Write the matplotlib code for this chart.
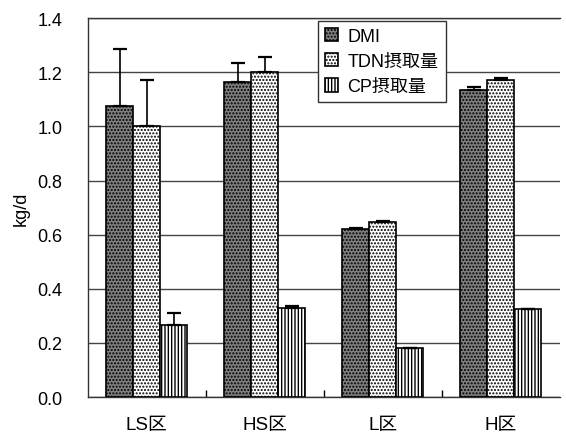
import numpy as np
import matplotlib
matplotlib.use("Agg")
import matplotlib.pyplot as plt

plt.rcParams['font.family'] = ['Liberation Sans', 'Noto Sans CJK JP']

groups = ['LS区', 'HS区', 'L区', 'H区']
series = ['DMI', 'TDN摂取量', 'CP摂取量']

dmi = [1.075, 1.165, 0.62, 1.135]
dmi_err = [0.21, 0.07, 0.005, 0.01]
tdn = [1.0, 1.2, 0.645, 1.17]
tdn_err = [0.17, 0.055, 0.005, 0.01]
cp = [0.265, 0.33, 0.18, 0.325]
cp_err = [0.045, 0.008, 0.0, 0.0]

values = [dmi, tdn, cp]
errors = [dmi_err, tdn_err, cp_err]
faces = ['#808080', 'white', 'white']
hatches = ['.....', '.....', '|||||']

fig = plt.figure(figsize=(5.66, 4.35), dpi=100)
ax = fig.add_axes([0.155, 0.085, 0.834, 0.871])

x = np.arange(len(groups))
w = 0.23
for i in range(3):
    pos = x + (i - 1) * w
    ax.bar(pos, values[i], w, color=faces[i], edgecolor='black',
           hatch=hatches[i], linewidth=1.2, label=series[i], zorder=3)
    err = np.array(errors[i])
    ax.errorbar(pos, values[i], yerr=[np.zeros_like(err), err], fmt='none',
                ecolor='black', elinewidth=1.2, capsize=5, capthick=1.6, zorder=4)

ax.set_xlim(-0.5, 3.5)
ax.set_ylim(0, 1.4)
ax.set_yticks(np.arange(0, 1.41, 0.2))
ax.set_yticklabels([f'{v:.1f}' for v in np.arange(0, 1.41, 0.2)], fontsize=13)
ax.yaxis.grid(True, color='#444444', linewidth=1.0, zorder=0)
ax.tick_params(axis='y', length=0, pad=18)

ax.set_xticks(x)
ax.set_xticklabels(groups, fontsize=13.5)
ax.tick_params(axis='x', length=0, pad=14)
ax.set_xticks(x[:-1] + 0.5, minor=True)
ax.tick_params(axis='x', which='minor', direction='in', length=5, width=1)

ax.spines['right'].set_visible(False)
for s in ['left', 'top', 'bottom']:
    ax.spines[s].set_linewidth(1.0)
    ax.spines[s].set_color('#333333')

ax.set_ylabel('kg/d', fontsize=13, labelpad=6)

leg = ax.legend(loc='upper left', bbox_to_anchor=(0.487, 0.993), fontsize=13,
                frameon=True, fancybox=False, edgecolor='#333333', framealpha=1,
                borderaxespad=0, borderpad=0.4, handlelength=0.75, handleheight=0.75,
                handletextpad=0.5, labelspacing=0.45)
leg.get_frame().set_linewidth(1.0)

fig.savefig('out.png', dpi=100)
